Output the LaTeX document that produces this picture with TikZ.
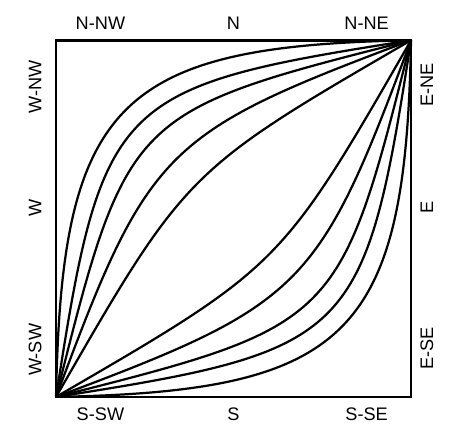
\documentclass[tikz,border=0pt]{standalone}
\usepackage{fontspec}
\setmainfont{Liberation Sans}

\begin{document}
\begin{tikzpicture}[x=10.65cm,y=10.7cm,
lab/.style={font=\fontsize{15.5}{17}\selectfont,inner sep=0pt},
vlab/.style={lab,rotate=90},
frame/.style={line width=2.3pt},
curve/.style={line width=1.9pt}]
\useasboundingbox (-0.158,-0.1206) rectangle (1.1606,1.113);
\coordinate (sw) at (0,0);
\coordinate (ne) at (1,1);
\draw[frame] (sw) rectangle (ne);
\node[lab] (nnw) at (0.125,1.048) {N-NW};
\node[lab] (n) at (0.5,1.048) {N};
\node[lab] (nne) at (0.875,1.048) {N-NE};
\node[lab] (ssw) at (0.125,-0.05) {S-SW};
\node[lab] (s) at (0.5,-0.05) {S};
\node[lab] (sse) at (0.875,-0.05) {S-SE};
\node[vlab] (wnw) at (-0.059,0.87) {W-NW};
\node[vlab] (w) at (-0.059,0.53) {W};
\node[vlab] (wsw) at (-0.059,0.132) {W-SW};
\node[vlab] (ene) at (1.045,0.875) {E-NE};
\node[vlab] (e) at (1.045,0.53) {E};
\node[vlab] (ese) at (1.045,0.135) {E-SE};
% upper left family
\draw[curve] (sw) .. controls (0.015,0.826) and (0.174,0.985) .. (ne);
\draw[curve] (sw) .. controls (0.13,0.837) and (0.163,0.87) .. (ne);
\draw[curve] (sw) .. controls (0.2,0.795) and (0.205,0.8) .. (ne);
\draw[curve] (sw) .. controls (0.26,0.697) and (0.303,0.74) .. (ne);
\draw[curve] (sw) .. controls (0.365,0.632) and (0.368,0.635) .. (ne);
% lower right family
\draw[curve] (sw) .. controls (0.826,0.015) and (0.985,0.174) .. (ne);
\draw[curve] (sw) .. controls (0.837,0.13) and (0.87,0.163) .. (ne);
\draw[curve] (sw) .. controls (0.795,0.2) and (0.8,0.205) .. (ne);
\draw[curve] (sw) .. controls (0.697,0.26) and (0.74,0.303) .. (ne);
\draw[curve] (sw) .. controls (0.632,0.365) and (0.635,0.368) .. (ne);
\end{tikzpicture}
\end{document}
